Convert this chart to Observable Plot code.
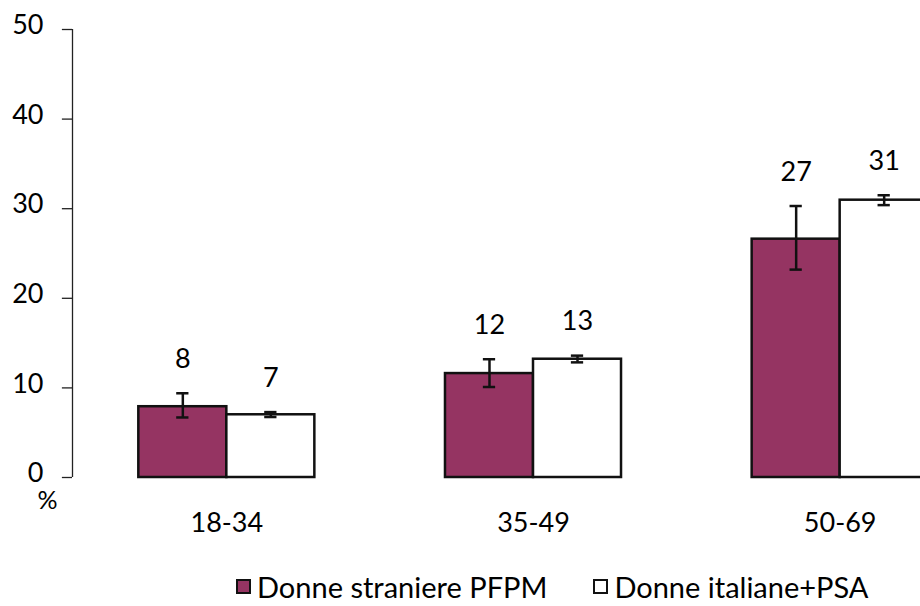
<!DOCTYPE html>
<html>
<head>
<meta charset="utf-8">
<script src="https://cdn.jsdelivr.net/npm/d3@7"></script>
<script src="https://cdn.jsdelivr.net/npm/@observablehq/plot@0.6"></script>
<style>
  html, body { margin: 0; padding: 0; background: #fff; overflow: hidden; width: 920px; height: 606px; }
  #chart svg { display: block; overflow: hidden; }
  .legend { display: flex; align-items: center; height: 40px; font-family: Lato, "Open Sans", sans-serif; font-size: 29px; color: #000; padding-left: 236px; }
  .legend .item { display: flex; align-items: center; }
  .legend .sw { width: 15px; height: 15px; box-sizing: border-box; border: 2px solid #111; margin-right: 6px; }
</style>
</head>
<body>
<div id="chart"></div>
<script>
// Data
const ageGroups = ["18-34", "35-49", "50-69"];
const seriesNames = ["Donne straniere PFPM", "Donne italiane+PSA"];
const seriesColors = ["#953462", "#ffffff"];
// values (%)
const foreignValues = [7.9, 11.6, 26.6];
const foreignLow = [6.7, 10.1, 23.2];
const foreignHigh = [9.4, 13.2, 30.3];
const italianValues = [7.0, 13.2, 30.95];
const italianLow = [6.75, 12.85, 30.4];
const italianHigh = [7.3, 13.6, 31.5];
const foreignLabels = ["8", "12", "27"];
const italianLabels = ["7", "13", "31"];
const yTicks = [0, 10, 20, 30, 40, 50];

const barW = 0.287;   // bar width in group units
const capW = 0.02;    // half width of error caps in group units
const tickLen = 0.033; // y-axis tick length in group units

const rows = [];
ageGroups.forEach((g, i) => {
  rows.push({group: g, i, s: 0, x1: i - barW, x2: i, xc: i - barW / 2,
    value: foreignValues[i], lo: foreignLow[i], hi: foreignHigh[i], label: foreignLabels[i]});
  rows.push({group: g, i, s: 1, x1: i, x2: i + barW, xc: i + barW / 2,
    value: italianValues[i], lo: italianLow[i], hi: italianHigh[i], label: italianLabels[i]});
});

const font = "Lato, 'Open Sans', sans-serif";
const fs = 27;

const chart = Plot.plot({
  width: 920,
  height: 566,
  marginTop: 29,
  marginBottom: 89,
  marginLeft: 73,
  marginRight: 0,
  style: {fontFamily: font, fontSize: fs + "px", color: "#000", background: "#fff", overflow: "hidden"},
  x: {type: "linear", domain: [-0.5, 2.5], range: [73, 993], axis: null},
  y: {type: "linear", domain: [0, 50], range: [477, 29], axis: null},
  marks: [
    // y axis line and ticks
    Plot.ruleX([-0.5], {x: d => d, y1: 0, y2: 50, stroke: "#222", strokeWidth: 1.3, dx: -1}),
    Plot.ruleY(yTicks, {y: d => d, x1: -0.5 - tickLen, x2: -0.5, stroke: "#222", strokeWidth: 1.3, dx: -1}),
    Plot.text(yTicks, {x: -0.5, y: d => d, text: d => String(d), textAnchor: "end", dx: -30, dy: -4, fontSize: fs, fill: "#000"}),
    Plot.text(["%"], {x: -0.5, y: 0, text: d => d, dx: -26, dy: 23, fontSize: 25, fill: "#000"}),
    // bars
    Plot.rectY(rows, {x1: "x1", x2: "x2", y1: 0, y2: "value", fill: d => seriesColors[d.s], stroke: "#111", strokeWidth: 2.5}),
    // error bars
    Plot.ruleX(rows, {x: "xc", y1: "lo", y2: "hi", stroke: "#111", strokeWidth: 2.5}),
    Plot.ruleY(rows, {y: "lo", x1: d => d.xc - capW, x2: d => d.xc + capW, stroke: "#111", strokeWidth: 2.5}),
    Plot.ruleY(rows, {y: "hi", x1: d => d.xc - capW, x2: d => d.xc + capW, stroke: "#111", strokeWidth: 2.5}),
    // value labels
    Plot.text(rows, {x: "xc", y: "hi", text: "label", dy: -34, fontSize: fs, fill: "#000"}),
    // category labels
    Plot.text(ageGroups, {x: (d, i) => i, y: 0, text: d => d, dy: 46, fontSize: fs, fill: "#000"})
  ]
});

document.getElementById("chart").appendChild(chart);

// legend
const legend = document.createElement("div");
legend.className = "legend";
seriesNames.forEach((name, k) => {
  const item = document.createElement("div");
  item.className = "item";
  if (k > 0) item.style.marginLeft = "46px";
  const sw = document.createElement("span");
  sw.className = "sw";
  sw.style.background = seriesColors[k];
  const t = document.createElement("span");
  t.textContent = name;
  item.appendChild(sw);
  item.appendChild(t);
  legend.appendChild(item);
});
document.getElementById("chart").appendChild(legend);
</script>
</body>
</html>
